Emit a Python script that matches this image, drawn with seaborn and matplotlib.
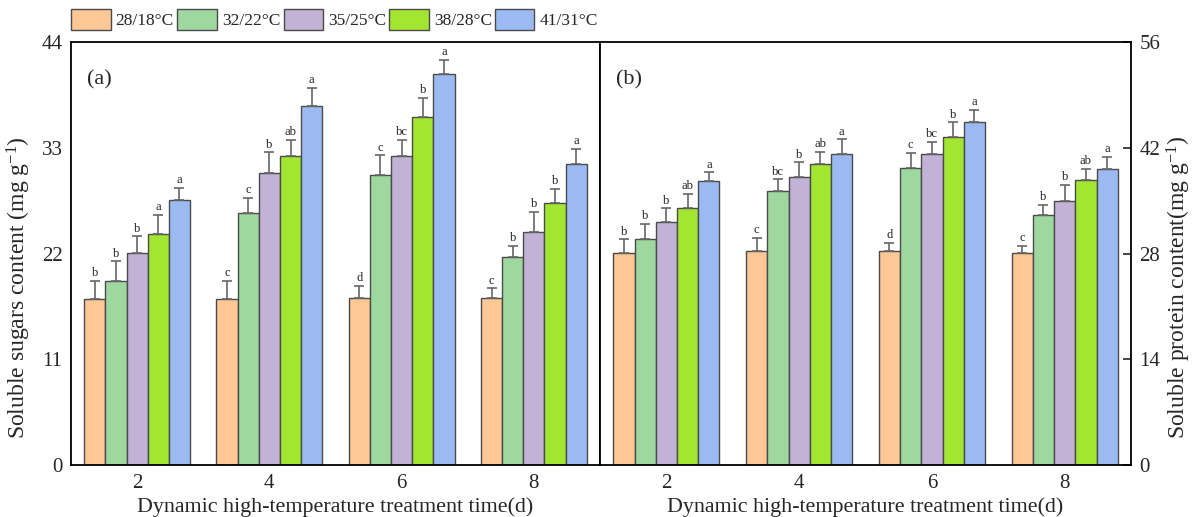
"""
Soluble sugars and soluble protein under dynamic high-temperature treatment
Grouped bars with one-sided SD error bars and significance letters
"""

import pandas as pd
import numpy as np
import matplotlib
matplotlib.use('Agg')
import matplotlib.pyplot as plt
import seaborn as sns

# ---------- data ----------
days = ['2', '4', '6', '8']
temps = ['28/18°C', '32/22°C', '35/25°C', '38/28°C', '41/31°C']
colors = ['#FEC896', '#9ED89F', '#C2B2D6', '#A3E632', '#9BBAF1']

# (a) soluble sugars, one list per temperature over days 2,4,6,8
sugar_28 = [17.3, 17.3, 17.35, 17.4]
sugar_32 = [19.2, 26.2, 30.2, 21.65]
sugar_35 = [22.1, 30.4, 32.1, 24.25]
sugar_38 = [24.05, 32.1, 36.2, 27.2]
sugar_41 = [27.6, 37.3, 40.6, 31.3]
sugar_err_28 = [1.9, 1.9, 1.3, 1.0]
sugar_err_32 = [2.0, 1.6, 2.0, 1.15]
sugar_err_35 = [1.7, 2.1, 1.7, 2.05]
sugar_err_38 = [2.0, 1.7, 2.0, 1.5]
sugar_err_41 = [1.2, 1.9, 1.55, 1.6]
sugar_sig_28 = ['b', 'c', 'd', 'c']
sugar_sig_32 = ['b', 'c', 'c', 'b']
sugar_sig_35 = ['b', 'b', 'bc', 'b']
sugar_sig_38 = ['a', 'ab', 'b', 'b']
sugar_sig_41 = ['a', 'a', 'a', 'a']

# (b) soluble protein
protein_28 = [28.03, 28.3, 28.3, 28.1]
protein_32 = [29.97, 36.3, 39.35, 33.1]
protein_35 = [32.17, 38.07, 41.1, 35.0]
protein_38 = [33.98, 39.88, 43.36, 37.77]
protein_41 = [37.55, 41.1, 45.4, 39.2]
protein_err_28 = [1.85, 1.8, 1.15, 0.9]
protein_err_32 = [2.0, 1.5, 1.95, 1.3]
protein_err_35 = [1.8, 2.0, 1.7, 2.05]
protein_err_38 = [1.95, 1.6, 2.0, 1.45]
protein_err_41 = [1.2, 2.0, 1.6, 1.6]
protein_sig_28 = ['b', 'c', 'd', 'c']
protein_sig_32 = ['b', 'bc', 'c', 'b']
protein_sig_35 = ['b', 'b', 'bc', 'b']
protein_sig_38 = ['ab', 'ab', 'b', 'ab']
protein_sig_41 = ['a', 'a', 'a', 'a']

sugar = [sugar_28, sugar_32, sugar_35, sugar_38, sugar_41]
sugar_err = [sugar_err_28, sugar_err_32, sugar_err_35, sugar_err_38, sugar_err_41]
sugar_sig = [sugar_sig_28, sugar_sig_32, sugar_sig_35, sugar_sig_38, sugar_sig_41]
protein = [protein_28, protein_32, protein_35, protein_38, protein_41]
protein_err = [protein_err_28, protein_err_32, protein_err_35, protein_err_38, protein_err_41]
protein_sig = [protein_sig_28, protein_sig_32, protein_sig_35, protein_sig_38, protein_sig_41]


def long_table(values):
    rows = []
    for t, series in zip(temps, values):
        for d, v in zip(days, series):
            rows.append({'day': d, 'temp': t, 'value': v})
    return pd.DataFrame(rows)


def draw_panel(ax, values, errs, sigs, ymax, yticks, tag):
    df = long_table(values)
    sns.barplot(data=df, x='day', y='value', hue='temp', order=days,
                hue_order=temps, palette=colors, saturation=1,
                edgecolor='#4a4a4a', linewidth=1.0, errorbar=None,
                width=0.8, ax=ax)

    # upper-only error bars and significance letters
    for container, err_row, sig_row in zip(ax.containers, errs, sigs):
        for bar, e, s in zip(container, err_row, sig_row):
            x = bar.get_x() + bar.get_width() / 2
            h = bar.get_height()
            ax.errorbar(x, h, yerr=[[0], [e]], fmt='none', ecolor='#666666',
                        elinewidth=1.2, capsize=3.8, capthick=1.2, zorder=3)
            ax.text(x, h + e + ymax * 0.004, s, ha='center', va='bottom',
                    fontsize=9, color='#222222')

    ax.set_xlim(-0.5, 3.5)
    ax.set_ylim(0, ymax)
    ax.set_yticks(yticks)
    ax.set_xlabel('Dynamic high-temperature treatment time(d)', fontsize=15.8, labelpad=3)
    ax.tick_params(axis='y', direction='in', length=6, width=1.2, labelsize=15, pad=6)
    ax.tick_params(axis='x', length=0, labelsize=15, pad=6)
    for sp in ax.spines.values():
        sp.set_visible(True)
        sp.set_linewidth(1.3)
        sp.set_color('black')
    ax.text(0.03, 0.91, tag, transform=ax.transAxes, fontsize=16, va='center')


def main():
    sns.set_style('white')
    plt.rcParams['font.family'] = ['Liberation Serif', 'DejaVu Serif']
    plt.rcParams['mathtext.fontset'] = 'custom'
    plt.rcParams['mathtext.rm'] = 'Liberation Serif'
    plt.rcParams['mathtext.it'] = 'Liberation Serif:italic'

    fig = plt.figure(figsize=(11.95, 5.17), dpi=100)
    ax1 = fig.add_axes([0.0594, 0.0998, 0.4427, 0.8195])
    ax2 = fig.add_axes([0.5021, 0.0998, 0.4444, 0.8195])

    draw_panel(ax1, sugar, sugar_err, sugar_sig, 44, [0, 11, 22, 33, 44], '(a)')
    draw_panel(ax2, protein, protein_err, protein_sig, 56, [0, 14, 28, 42, 56], '(b)')

    ax1.set_ylabel('Soluble sugars content (mg g$^{-1}$)', fontsize=17)
    ax1.yaxis.set_label_coords(-0.071, 0.42)
    ax2.yaxis.tick_right()
    ax2.yaxis.set_label_position('right')
    ax2.set_ylabel('Soluble protein content(mg g$^{-1}$)', fontsize=17)
    ax2.yaxis.set_label_coords(1.064, 0.42)

    handles, labels = ax1.get_legend_handles_labels()
    for a in (ax1, ax2):
        if a.get_legend() is not None:
            a.get_legend().remove()
    fig.legend(handles, labels, ncol=5, loc='center left',
               bbox_to_anchor=(0.054, 0.962), frameon=False, fontsize=12.5,
               handlelength=2.25, handleheight=1.45, handletextpad=0.3,
               columnspacing=0.2, borderaxespad=0)

    fig.savefig('out.png', dpi=100)
    plt.close(fig)


if __name__ == '__main__':
    main()
